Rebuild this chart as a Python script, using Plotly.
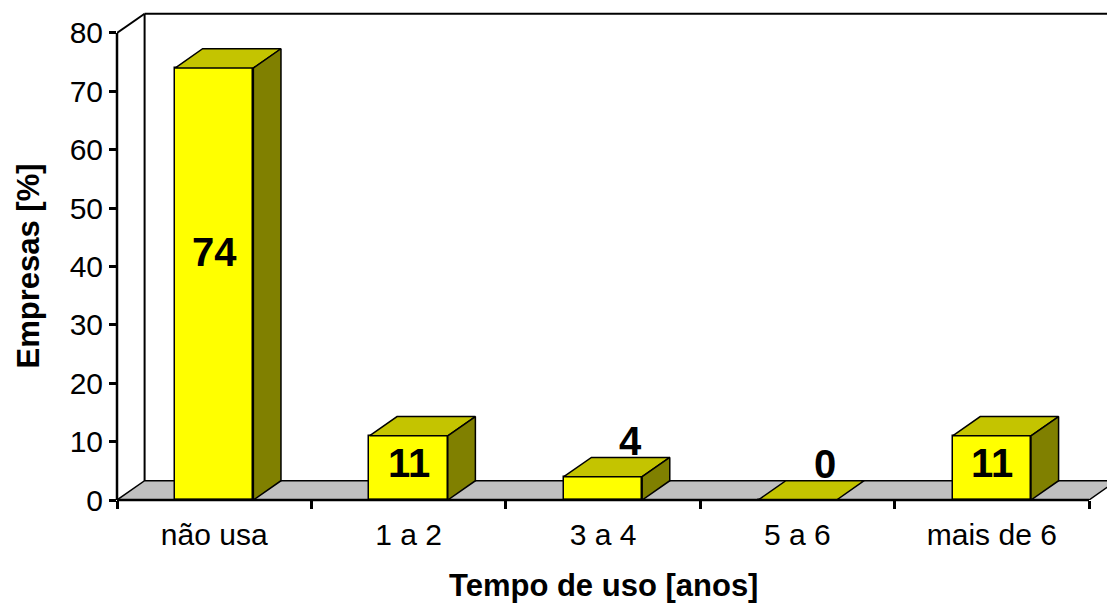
import plotly.graph_objects as go

# Survey data: share of companies by time of use
categories = ["não usa", "1 a 2", "3 a 4", "5 a 6", "mais de 6"]
values = [74, 11, 4, 0, 11]

FONT = "Liberation Sans, Arial, sans-serif"
FRONT = "#ffff00"
TOP = "#c4c400"
SIDE = "#808000"
FLOOR = "#c0c0c0"

# pseudo-3D depth expressed in axis units
DX = 0.142
DY = 3.3
BAR_W = 0.403
Y_MAX = 80
X_LO, X_HI = -0.5, 4.5926
Y_HI = 84.28

pos = list(range(len(categories)))

fig = go.Figure()

# front faces
fig.add_trace(go.Bar(
    x=pos, y=values, width=BAR_W,
    marker=dict(color=FRONT, line=dict(color="black", width=1.5)),
    hoverinfo="skip", showlegend=False,
))

# top and side faces of each column
for c, v in zip(pos, values):
    l, r = c - BAR_W / 2, c + BAR_W / 2
    fig.add_trace(go.Scatter(
        x=[l, r, r + DX, l + DX, l], y=[v, v, v + DY, v + DY, v],
        mode="lines", fill="toself", fillcolor=TOP,
        line=dict(color="black", width=1.5), hoverinfo="skip", showlegend=False,
    ))
    if v > 0:
        fig.add_trace(go.Scatter(
            x=[r, r + DX, r + DX, r, r], y=[0, DY, v + DY, v, 0],
            mode="lines", fill="toself", fillcolor=SIDE,
            line=dict(color="black", width=1.5), hoverinfo="skip", showlegend=False,
        ))

shapes = [
    # floor
    dict(type="path", xref="x", yref="y", layer="below",
         path=f"M -0.5,0 L 4.5,0 L {4.5 + DX},{DY} L {-0.5 + DX},{DY} Z",
         fillcolor=FLOOR, line=dict(color="black", width=1.5)),
    # back wall edges
    dict(type="line", xref="x", yref="y", x0=-0.5 + DX, y0=DY, x1=-0.5 + DX, y1=Y_MAX + DY,
         line=dict(color="black", width=2), layer="below"),
    dict(type="line", xref="x", yref="y", x0=-0.5 + DX, y0=Y_MAX + DY, x1=X_HI, y1=Y_MAX + DY,
         line=dict(color="black", width=2), layer="below"),
    dict(type="line", xref="x", yref="y", x0=-0.5, y0=Y_MAX, x1=-0.5 + DX, y1=Y_MAX + DY,
         line=dict(color="black", width=2), layer="below"),
    # axis lines
    dict(type="line", xref="paper", yref="y", x0=0, y0=0, x1=0, y1=Y_MAX,
         line=dict(color="black", width=2.5)),
    dict(type="line", xref="x", yref="paper", x0=-0.5, y0=0, x1=4.5, y1=0,
         line=dict(color="black", width=2.5)),
]

annotations = []
for c, v in zip(pos, values):
    if v >= 10:
        annotations.append(dict(x=c, y=0.575 * v, xref="x", yref="y", text=str(v),
                                showarrow=False, xanchor="center", yanchor="middle",
                                font=dict(family=FONT, size=40, color="black", weight="bold")))
    else:
        annotations.append(dict(x=c + DX, y=v + DY + 2.8, xref="x", yref="y", text=str(v),
                                showarrow=False, xanchor="center", yanchor="middle",
                                font=dict(family=FONT, size=40, color="black", weight="bold")))

H, MT, MB = 605, 8, 105

annotations.append(dict(x=2, y=-(585 - (H - MB)) / (H - MT - MB), xref="x", yref="paper",
                        text="Tempo de uso [anos]",
                        showarrow=False, xanchor="center", yanchor="middle",
                        font=dict(family=FONT, size=31, color="black", weight="bold")))
annotations.append(dict(x=(28 - 117) / 990, y=40, xref="paper", yref="y", text="Empresas [%]",
                        textangle=-90, showarrow=False, xanchor="center", yanchor="middle",
                        font=dict(family=FONT, size=31, color="black", weight="bold")))

fig.update_layout(
    width=1107, height=605,
    margin=dict(l=117, r=0, t=MT, b=MB),
    paper_bgcolor="white", plot_bgcolor="white",
    showlegend=False, bargap=0,
    shapes=shapes, annotations=annotations,
    xaxis=dict(
        range=[X_LO, X_HI], showgrid=False, zeroline=False, showline=False,
        tickvals=pos, ticktext=categories,
        ticks="outside", ticklen=8, tickcolor="rgba(0,0,0,0)",
        tickfont=dict(family=FONT, size=30, color="black"),
        minor=dict(tickvals=[-0.5, 0.5, 1.5, 2.5, 3.5, 4.5], ticks="outside",
                   ticklen=8, tickwidth=2.5, tickcolor="black", showgrid=False),
        fixedrange=True,
    ),
    yaxis=dict(
        range=[0, Y_HI], showgrid=False, zeroline=False, showline=False,
        tickvals=[0, 10, 20, 30, 40, 50, 60, 70, 80],
        ticks="outside", ticklen=7, tickwidth=2.5, tickcolor="black",
        tickfont=dict(family=FONT, size=30, color="black"),
        fixedrange=True,
    ),
)

fig.write_html("out.html")
